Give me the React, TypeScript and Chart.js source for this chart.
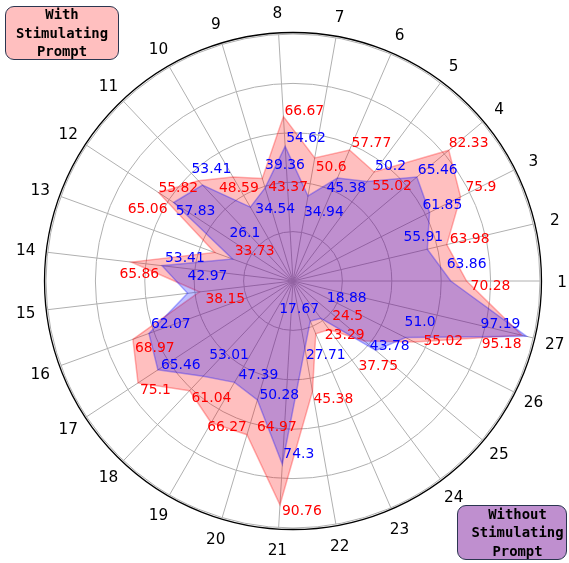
import React, { useEffect, useRef } from "react";
import { Chart, registerables } from "chart.js";

Chart.register(...registerables);

// ---- data (axis 1 .. 27, counter-clockwise from the right) ----
const categories = [
  "1", "2", "3", "4", "5", "6", "7", "8", "9", "10", "11", "12", "13", "14",
  "15", "16", "17", "18", "19", "20", "21", "22", "23", "24", "25", "26", "27",
];

const withPrompt = [
  70.28, 63.98, 75.9, 82.33, 55.02, 57.77, 50.6, 66.67, 43.37, 48.59, 55.82,
  65.06, 33.73, 65.86, 38.15, 68.97, 75.1, 61.04, 66.27, 64.97, 90.76, 45.38,
  23.29, 24.5, 37.75, 55.02, 95.18,
];

const withoutPrompt = [
  63.86, 55.91, 61.85, 65.46, 50.2, 45.38, 34.94, 54.62, 39.36, 34.54, 53.41,
  57.83, 26.1, 53.41, 42.97, 62.07, 65.46, 53.01, 47.39, 50.28, 74.3, 27.71,
  17.67, 18.88, 43.78, 51.0, 97.19,
];

const radialMin = 0;
const radialMax = 100;
const radialStep = 20;

// ---- label placement (pixel nudges of each value label from its point) ----
const redLabelShift: [number, number][] = [
  [5, 9], [4, -2], [6, -6], [1, -3], [-1, 18], [3, -3], [2, 13], [2, -2],
  [7, 13], [-13, 15], [-39, 11], [-30, 20], [21, 2], [-11, 16], [7, 11],
  [3, 13], [3, 11], [3, 11], [-3, 8], [11, -4], [3, 10], [2, 12], [10, 5],
  [4, -10], [-5, 29], [10, 3], [-39, 13],
];
const blueLabelShift: [number, number][] = [
  [-3, -13], [-23, -8], [-6, -3], [2, -3], [9, -12], [-10, 14], [-3, 20],
  [2, -4], [1, -19], [6, 6], [-10, -12], [3, 12], [-2, -22], [4, -4],
  [1, -13], [3, -5], [4, -1], [7, -17], [5, -3], [3, -1], [2, -6], [2, 11],
  [-30, -8], [7, -16], [-5, -1], [0, -12], [-45, -8],
];

// Chart.js runs clockwise; reorder so that the axes run counter-clockwise
const ccw = <T,>(arr: T[]): T[] => [arr[0], ...arr.slice(1).reverse()];
const slotOf = (i: number) => (i === 0 ? 0 : categories.length - i);
const fmt = (v: number) => (Number.isInteger(v) ? v.toFixed(1) : String(v));

const TICK_FONT = 15.3;
const VALUE_FONT = 13.9;

const overlayPlugin = {
  id: "radarOverlay",
  afterDatasetsDraw(chart: any) {
    const scale = chart.scales.r;
    const ctx: CanvasRenderingContext2D = chart.ctx;
    ctx.save();

    // outer spine
    ctx.beginPath();
    ctx.arc(scale.xCenter, scale.yCenter, scale.drawingArea + 1.5, 0, Math.PI * 2);
    ctx.strokeStyle = "#000000";
    ctx.lineWidth = 1.3;
    ctx.stroke();

    // category labels, centred outside the circle
    ctx.font = `${TICK_FONT}px "DejaVu Sans"`;
    ctx.fillStyle = "#000000";
    ctx.textAlign = "center";
    ctx.textBaseline = "alphabetic";
    categories.forEach((c, i) => {
      const p = scale.getPointPosition(slotOf(i), scale.drawingArea + 22);
      ctx.fillText(c, p.x, p.y + (0.729 * TICK_FONT) / 2);
    });

    // value labels
    ctx.font = `${VALUE_FONT}px "DejaVu Sans"`;
    ctx.textAlign = "left";
    const series = [
      { values: withPrompt, shift: redLabelShift, color: "#ff0000" },
      { values: withoutPrompt, shift: blueLabelShift, color: "#0000ff" },
    ];
    series.forEach((s) => {
      ctx.fillStyle = s.color;
      s.values.forEach((v, i) => {
        const p = scale.getPointPositionForValue(slotOf(i), v);
        ctx.fillText(fmt(v), p.x + s.shift[i][0] - 1, p.y + s.shift[i][1]);
      });
    });

    ctx.restore();
  },
};

const boxBase: React.CSSProperties = {
  position: "fixed",
  boxSizing: "border-box",
  border: "1.5px solid #2b3650",
  borderRadius: 9,
  display: "flex",
  alignItems: "center",
  justifyContent: "center",
  textAlign: "center",
  fontFamily: '"DejaVu Sans Mono", monospace',
  fontWeight: "bold",
  fontSize: 13.9,
  lineHeight: "18.4px",
  color: "#000000",
};

export default function App() {
  const canvasRef = useRef<HTMLCanvasElement | null>(null);

  useEffect(() => {
    const canvas = canvasRef.current;
    if (!canvas) return;
    const chart = new Chart(canvas, {
      type: "radar",
      data: {
        labels: ccw(categories),
        datasets: [
          {
            label: "Without Stimulating Prompt",
            data: ccw(withoutPrompt),
            backgroundColor: "rgba(0,0,255,0.25)",
            borderColor: "rgba(0,0,255,0.3)",
            borderWidth: 1.5,
            pointRadius: 0,
            fill: true,
          },
          {
            label: "With Stimulating Prompt",
            data: ccw(withPrompt),
            backgroundColor: "rgba(255,0,0,0.25)",
            borderColor: "rgba(255,0,0,0.3)",
            borderWidth: 1.5,
            pointRadius: 0,
            fill: true,
          },
        ],
      },
      options: {
        responsive: false,
        animation: false,
        layout: { padding: { left: 46, right: 28, top: 34, bottom: 34 } },
        plugins: {
          legend: { display: false },
          tooltip: { enabled: false },
        },
        elements: { line: { tension: 0 } },
        scales: {
          r: {
            min: radialMin,
            max: radialMax,
            startAngle: 90,
            ticks: { display: false, stepSize: radialStep },
            pointLabels: { display: false },
            grid: { circular: true, color: "#b0b0b0", lineWidth: 1 },
            angleLines: { display: true, color: "#b0b0b0", lineWidth: 1 },
          },
        },
      },
      plugins: [overlayPlugin],
    } as any);
    return () => chart.destroy();
  }, []);

  return (
    <div>
      <canvas
        ref={canvasRef}
        width={569}
        height={563}
        style={{ position: "fixed", left: 0, top: 0, display: "block" }}
      />
      <div style={{ ...boxBase, left: 5, top: 6, width: 114, height: 54, background: "#ffbfbf" }}>
        <div>
          With
          <br />
          Stimulating
          <br />
          Prompt
        </div>
      </div>
      <div
        style={{
          ...boxBase,
          left: 457,
          top: 505,
          width: 110,
          height: 55,
          paddingLeft: 11,
          background: "#bf8fcf",
        }}
      >
        <div>
          Without
          <br />
          Stimulating
          <br />
          Prompt
        </div>
      </div>
    </div>
  );
}
